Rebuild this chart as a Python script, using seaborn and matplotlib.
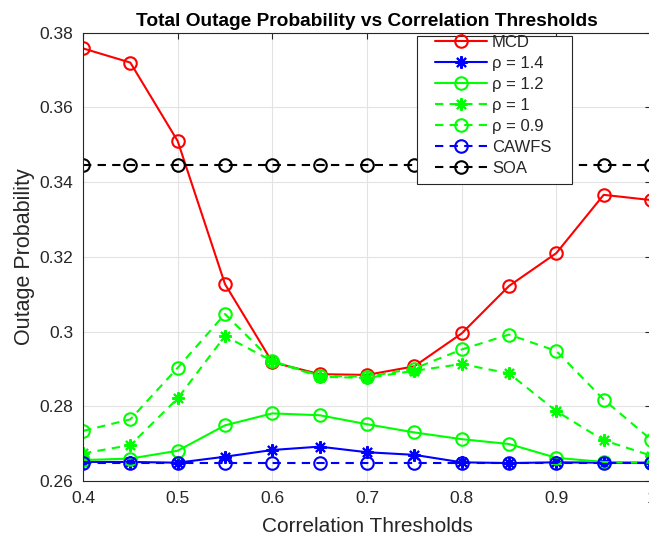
import matplotlib
matplotlib.use("Agg")
import matplotlib.pyplot as plt
from matplotlib.patches import Rectangle
import seaborn as sns
import numpy as np
import pandas as pd

# ---- data ----
thresholds = [0.4, 0.45, 0.5, 0.55, 0.6, 0.65, 0.7, 0.75, 0.8, 0.85, 0.9, 0.95, 1.0]
mcd = [0.3758, 0.3720, 0.3510, 0.3127, 0.2918, 0.2886, 0.2884, 0.2907, 0.2995, 0.3122, 0.3210, 0.3366, 0.3352]
rho_14 = [0.2651, 0.2651, 0.2649, 0.2665, 0.2683, 0.2692, 0.2677, 0.2670, 0.2650, 0.2648, 0.2650, 0.2649, 0.2649]
rho_12 = [0.2656, 0.2660, 0.2681, 0.2749, 0.2781, 0.2776, 0.2752, 0.2730, 0.2712, 0.2699, 0.2662, 0.2651, 0.2649]
rho_10 = [0.2674, 0.2696, 0.2821, 0.2988, 0.2921, 0.2879, 0.2876, 0.2895, 0.2913, 0.2888, 0.2787, 0.2709, 0.2668]
rho_09 = [0.2734, 0.2765, 0.2903, 0.3047, 0.2921, 0.2882, 0.2879, 0.2901, 0.2952, 0.2992, 0.2948, 0.2818, 0.2711]
cawfs = [0.2649] * len(thresholds)
soa = [0.3447] * len(thresholds)

series_names = ["MCD", "ρ = 1.4", "ρ = 1.2", "ρ = 1", "ρ = 0.9", "CAWFS", "SOA"]
series_values = [mcd, rho_14, rho_12, rho_10, rho_09, cawfs, soa]
series_colors = ["#ff0000", "#0000ff", "#00ff00", "#00ff00", "#00ff00", "#0000ff", "#000000"]
series_markers = ["o", (8, 2, 0), "o", (8, 2, 0), "o", "o", "o"]
series_dashed = [False, False, False, True, True, True, True]

xticks = [0.4, 0.5, 0.6, 0.7, 0.8, 0.9, 1.0]
xtick_labels = ["0.4", "0.5", "0.6", "0.7", "0.8", "0.9", "1"]
yticks = [0.26, 0.28, 0.30, 0.32, 0.34, 0.36, 0.38]
ytick_labels = ["0.26", "0.28", "0.3", "0.32", "0.34", "0.36", "0.38"]

sns.set_style("white")
plt.rcParams['font.family'] = ['Liberation Sans', 'DejaVu Sans']

txt = "#262626"
fig = plt.figure(figsize=(6.49, 5.39), dpi=100)
ax = fig.add_axes([83 / 649, 58 / 539, 568 / 649, 448.3 / 539])

for name, vals, col, mk, dashed in zip(series_names, series_values, series_colors,
                                       series_markers, series_dashed):
    df = pd.DataFrame({"x": thresholds, "y": vals})
    sns.lineplot(data=df, x="x", y="y", ax=ax, color=col, lw=1.5,
                 linestyle=(0, (4, 3)) if dashed else "-",
                 marker=mk, markersize=9, markerfacecolor="none",
                 markeredgecolor=col, markeredgewidth=1.5,
                 label=name, legend=False)

ax.set_xlim(0.4, 1.0)
ax.set_ylim(0.26, 0.38)
ax.set_xticks(xticks)
ax.set_xticklabels(xtick_labels)
ax.set_yticks(yticks)
ax.set_yticklabels(ytick_labels)
ax.grid(True, color="#e3e3e3", lw=0.8)
ax.set_axisbelow(True)
ax.tick_params(direction="in", top=True, right=True, length=4, width=0.8,
               colors=txt, labelsize=12.5, pad=7)
for s in ax.spines.values():
    s.set_visible(True)
    s.set_color(txt)
    s.set_linewidth(0.8)

ax.set_xlabel("Correlation Thresholds", fontsize=15, color=txt, labelpad=8)
ax.set_ylabel("Outage Probability", fontsize=15.5, color=txt, labelpad=3)
ax.set_title("Total Outage Probability vs Correlation Thresholds",
             fontsize=13.8, fontweight="bold", color="black", pad=5)

# MATLAB-like legend box: wide frame with roomy padding
box = Rectangle((0.588, 0.6625), 0.273, 0.330, transform=ax.transAxes,
                facecolor="white", edgecolor=txt, lw=0.8, zorder=4.9, clip_on=False)
ax.add_patch(box)
leg = ax.legend(loc="upper left", bbox_to_anchor=(0.62, 0.9953), borderaxespad=0,
                fontsize=12, handlelength=3.1, handletextpad=0.3, labelspacing=0.36,
                borderpad=0, frameon=False)
leg.set_zorder(5)

fig.savefig("out.png", dpi=100)
